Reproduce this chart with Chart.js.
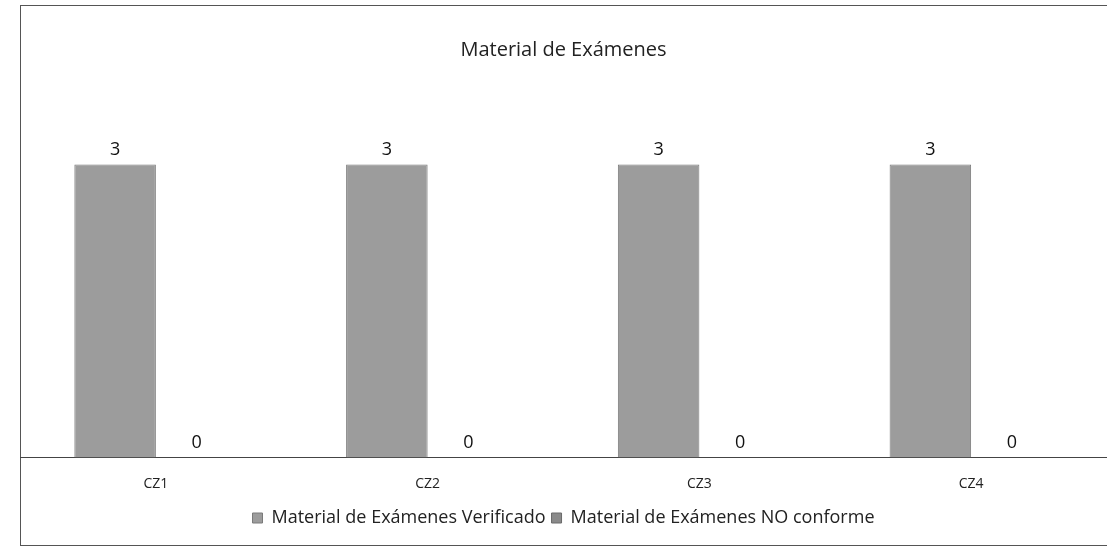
<!DOCTYPE html>
<html>
<head>
<meta charset="utf-8">
<script src="https://cdn.jsdelivr.net/npm/chart.js@4.4.1/dist/chart.umd.min.js"></script>
<style>
  body { margin: 0; background: #fff; }
  #wrap { position: relative; width: 1107px; height: 556px; overflow: hidden; }
  #frame { position: absolute; left: 20px; top: 5px; width: 1100px; height: 541px; border: 1px solid #555; box-sizing: border-box; }
  canvas { position: absolute; left: 0; top: 0; }
</style>
</head>
<body>
<div id="wrap">
  <div id="frame"></div>
  <canvas id="barChart" width="1107" height="556"></canvas>
</div>
<script>
const categories = ['CZ1', 'CZ2', 'CZ3', 'CZ4'];
const verificado = [3, 3, 3, 3];
const noConforme = [0, 0, 0, 0];
const seriesNames = ['Material de Exámenes Verificado', 'Material de Exámenes NO conforme'];

const FONT = '"Open Sans", "Noto Sans", sans-serif';

// numeros encima de cada barra
const valueLabels = {
    id: 'valueLabels',
    afterDatasetsDraw(chart) {
        const ctx = chart.ctx;
        ctx.save();
        ctx.font = '18px ' + FONT;
        ctx.fillStyle = '#111';
        ctx.textAlign = 'center';
        ctx.textBaseline = 'bottom';
        chart.data.datasets.forEach((ds, i) => {
            chart.getDatasetMeta(i).data.forEach((bar, j) => {
                ctx.fillText(ds.data[j], bar.x, bar.y - 6);
            });
        });
        ctx.restore();
    }
};

new Chart(document.getElementById('barChart').getContext('2d'), {
    type: 'bar',
    data: {
        labels: categories,
        datasets: [
            { label: seriesNames[0], data: verificado, backgroundColor: '#9c9c9c', borderColor: '#7a7a7a', borderWidth: 1 },
            { label: seriesNames[1], data: noConforme, backgroundColor: '#8a8a8a', borderColor: '#6a6a6a', borderWidth: 1 }
        ]
    },
    options: {
        responsive: false,
        animation: false,
        categoryPercentage: 0.6,
        barPercentage: 1.0,
        layout: { padding: { left: 20, right: 0, top: 0, bottom: 19 } },
        plugins: {
            title: {
                display: true,
                text: 'Material de Exámenes',
                color: '#222',
                font: { family: FONT, size: 20, weight: 'normal' },
                padding: { top: 38, bottom: 44 }
            },
            legend: {
                position: 'bottom',
                labels: {
                    color: '#222',
                    font: { family: FONT, size: 18 },
                    boxWidth: 10, boxHeight: 10, padding: 6
                }
            },
            tooltip: { enabled: false }
        },
        scales: {
            y: { display: false, min: 0, max: 3.6 },
            x: {
                grid: { display: false },
                border: { display: true, color: '#444', width: 1 },
                ticks: { color: '#222', font: { family: FONT, size: 14, lineHeight: 0.4 }, padding: 16 }
            }
        }
    },
    plugins: [valueLabels]
});
</script>
</body>
</html>
